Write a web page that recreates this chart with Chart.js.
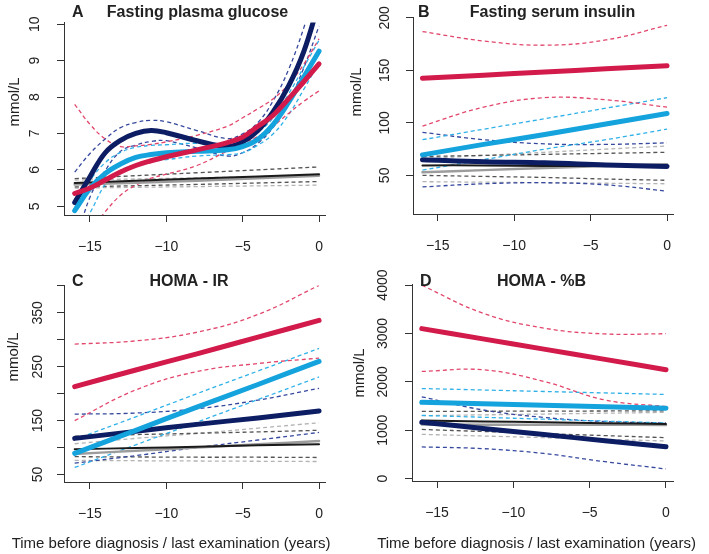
<!DOCTYPE html>
<html>
<head>
<meta charset="utf-8">
<script src="https://cdn.jsdelivr.net/npm/chart.js@4.4.1/dist/chart.umd.min.js"></script>
<style>
  body { margin: 0; background: #fff; }
  #page { position: relative; width: 709px; height: 554px; overflow: hidden; background: #fff; }
  canvas { position: absolute; }
</style>
</head>
<body>
<div id="page">
  <canvas id="panelA" width="348" height="270" style="left:0;top:0"></canvas>
  <canvas id="panelB" width="361" height="270" style="left:348px;top:0"></canvas>
  <canvas id="panelC" width="348" height="284" style="left:0;top:270px"></canvas>
  <canvas id="panelD" width="361" height="284" style="left:348px;top:270px"></canvas>
</div>
<script>
var FONT = '"Liberation Sans", Arial, Helvetica, sans-serif'

// years before diagnosis
var xTicks = [-15, -10, -5, 0]
var yearsA = [-16, -15, -14, -13, -12, -11, -10, -8, -6, -5, -4, -3, -2, -1, 0]
var yearsRefA = [-16, -8, 0]
var years = [-16, -12, -8, -4, 0]

// A - fasting plasma glucose (mmol/L)
var glucoseRed = [5.35, 5.5, 5.72, 5.94, 6.12, 6.25, 6.36, 6.55, 6.75, 6.9, 7.2, 7.5, 7.95, 8.42, 8.91]
var glucoseRedHi = [7.8, 7.25, 6.85, 6.64, 6.66, 6.7, 6.77, 6.95, 7.2, 7.43, 7.68, 7.95, 8.35, 8.9, 9.6]
var glucoseRedLo = [3.8, 4.3, 4.85, 5.3, 5.58, 5.77, 5.88, 6.12, 6.52, 6.72, 6.92, 7.2, 7.55, 7.88, 8.17]
var glucoseBlue = [4.88, 5.49, 5.9, 6.16, 6.34, 6.42, 6.47, 6.51, 6.55, 6.64, 6.84, 7.25, 7.85, 8.55, 9.26]
var glucoseBlueHi = [4.95, 5.7, 6.2, 6.48, 6.62, 6.67, 6.69, 6.73, 6.68, 6.77, 7.03, 7.43, 8.08, 8.82, 9.56]
var glucoseBlueLo = [4.2, 4.82, 5.6, 5.98, 6.15, 6.23, 6.28, 6.38, 6.42, 6.47, 6.68, 6.99, 7.51, 8.21, 8.95]
var glucoseNavy = [5.1, 5.81, 6.47, 6.81, 7.0, 7.08, 7.02, 6.8, 6.64, 6.77, 7.08, 7.6, 8.3, 9.25, 10.6]
var glucoseNavyHi = [5.94, 6.45, 6.85, 7.16, 7.3, 7.36, 7.32, 7.08, 6.86, 6.99, 7.3, 7.9, 8.75, 9.9, 11.3]
var glucoseNavyLo = [3.9, 5.25, 5.98, 6.51, 6.68, 6.78, 6.8, 6.6, 6.38, 6.47, 6.73, 7.17, 7.86, 8.8, 9.95]
var glucoseBlack = [5.64, 5.76, 5.88]
var glucoseBlackHi = [5.76, 5.92, 6.08]
var glucoseBlackLo = [5.53, 5.6, 5.68]
var glucoseGray = [5.6, 5.7, 5.84]
var glucoseGrayHi = [5.72, 5.78, 5.85]
var glucoseGrayLo = [5.5, 5.54, 5.58]

// B - fasting serum insulin
var insulinRed = [142.5, 145.5, 148.5, 151.5, 154.5]
var insulinRedHi = [187, 178, 174, 179, 193]
var insulinRedLo = [97, 115, 124, 122, 115]
var insulinBlue = [69.5, 79.5, 89, 99, 109]
var insulinBlueHi = [84, 94, 104, 114, 124]
var insulinBlueLo = [55, 65, 75, 84, 94]
var insulinNavy = [65, 63, 62, 60, 58.5]
var insulinNavyHi = [91, 84, 80, 79.5, 81]
var insulinNavyLo = [39, 42, 43, 41, 35]
var insulinBlack = [59.5, 59.5, 59, 59, 59]
var insulinBlackHi = [68, 69, 70, 71, 72]
var insulinBlackLo = [50, 49, 48, 46.5, 45.3]
var insulinGray = [53, 55, 57, 59, 60.5]
var insulinGrayHi = [66, 69, 72, 75, 78]
var insulinGrayLo = [44, 43.5, 43, 42.5, 42]

// C - HOMA-IR
var homaIrRed = [213, 244, 274, 305, 336]
var homaIrRedHi = [292, 298, 314, 347, 401]
var homaIrRedLo = [150, 207, 241, 256, 266]
var homaIrBlue = [89, 132, 175, 217, 260]
var homaIrBlueHi = [115, 157, 200, 242, 284]
var homaIrBlueLo = [63, 105, 147, 189, 231]
var homaIrNavy = [117, 130, 143, 155, 168]
var homaIrNavyHi = [162, 164, 172, 188, 210]
var homaIrNavyLo = [71, 85, 100, 114, 128]
var homaIrBlack = [97, 99, 101.5, 104, 106]
var homaIrBlackHi = [121, 124, 126.5, 129, 132]
var homaIrBlackLo = [83, 82.5, 82, 82, 81.5]
var homaIrGray = [88, 94, 100, 106, 112]
var homaIrGrayHi = [107, 117, 126, 136, 146]
var homaIrGrayLo = [76, 75.5, 75, 74.5, 74]

// D - HOMA-%B
var homaBRed = [3100, 2888, 2676, 2464, 2250]
var homaBRedHi = [3996, 3420, 3110, 2990, 2995]
var homaBRedLo = [2215, 2250, 2010, 1625, 1490]
var homaBBlue = [1577, 1547, 1516, 1486, 1455]
var homaBBlueHi = [1862, 1832, 1801, 1771, 1740]
var homaBBlueLo = [1307, 1268, 1228, 1189, 1150]
var homaBNavy = [1165, 1038, 911, 784, 657]
var homaBNavyHi = [1690, 1420, 1265, 1180, 1150]
var homaBNavyLo = [655, 620, 520, 350, 200]
var homaBBlack = [1199, 1182, 1165, 1147, 1130]
var homaBBlackHi = [1388, 1392, 1395, 1398, 1402]
var homaBBlackLo = [1016, 974, 931, 889, 846]
var homaBGray = [1118, 1116, 1114, 1112, 1110]
var homaBGrayHi = [1300, 1318, 1335, 1352, 1370]
var homaBGrayLo = [915, 881, 847, 812, 778]

var colors = {
    red: ['#d21a4b', '#e2466c'],
    blue: ['#14a3dd', '#2fb1e8'],
    navy: ['#0c1d63', '#36489e'],
    black: ['#1a1a1a', '#555555'],
    gray: ['#9c9c9c', '#b3b3b3']
}

function solid(xs, ys, color, width) {
    return {
        data: xs.map(function (x, i) { return { x: x, y: ys[i] } }),
        borderColor: color,
        borderWidth: width,
        pointRadius: 0,
        fill: false,
        tension: 0.4,
        borderCapStyle: 'round',
        clip: 0
    }
}

function dashed(xs, ys, color) {
    var d = solid(xs, ys, color, 1.3)
    d.borderDash = [4, 3]
    d.borderCapStyle = 'butt'
    return d
}

// first dataset ends up on top
function groupSets(xs, refXs, s) {
    return [
        solid(xs, s.red[0], colors.red[0], 5),
        solid(xs, s.blue[0], colors.blue[0], 5),
        solid(xs, s.navy[0], colors.navy[0], 5),
        solid(refXs, s.black[0], colors.black[0], 2),
        solid(refXs, s.gray[0], colors.gray[0], 2.5),
        dashed(xs, s.red[1], colors.red[1]),
        dashed(xs, s.red[2], colors.red[1]),
        dashed(xs, s.blue[1], colors.blue[1]),
        dashed(xs, s.blue[2], colors.blue[1]),
        dashed(xs, s.navy[1], colors.navy[1]),
        dashed(xs, s.navy[2], colors.navy[1]),
        dashed(refXs, s.black[1], colors.black[1]),
        dashed(refXs, s.black[2], colors.black[1]),
        dashed(refXs, s.gray[1], colors.gray[1]),
        dashed(refXs, s.gray[2], colors.gray[1])
    ]
}

function textPlugin(items) {
    return {
        id: 'panelText',
        afterDatasetsDraw: function (chart) {
            var c = chart.ctx
            items.forEach(function (t) {
                c.save()
                c.font = (t.bold ? 'bold ' : '') + t.size + 'px ' + FONT
                c.fillStyle = '#222'
                c.textAlign = t.align || 'center'
                c.textBaseline = 'middle'
                c.translate(t.x, t.y)
                if (t.rotate) c.rotate(-Math.PI / 2)
                c.fillText(t.text, 0, 0)
                c.restore()
            })
        }
    }
}

function minusLabel(v) {
    return v < 0 ? '\u2212' + Math.abs(v) : String(v)
}

function drawPanel(canvasId, p) {
    var canvas = document.getElementById(canvasId).getContext('2d')
    var tickFont = { family: FONT, size: 14 }
    // eslint-disable-next-line no-unused-vars
    var chart = new Chart(canvas, {
        type: 'line',
        data: { datasets: p.datasets },
        options: {
            responsive: false,
            animation: false,
            events: [],
            layout: { padding: p.padding },
            plugins: { legend: { display: false }, tooltip: { enabled: false } },
            scales: {
                x: {
                    type: 'linear',
                    min: p.xMin,
                    max: p.xMax,
                    afterBuildTicks: function (s) { s.ticks = xTicks.map(function (v) { return { value: v } }) },
                    afterFit: function (s) { s.height = p.xHeight },
                    grid: { drawOnChartArea: false, tickLength: 7, color: '#333' },
                    border: { color: '#333' },
                    ticks: { padding: 17, maxRotation: 0, font: tickFont, color: '#222', callback: minusLabel }
                },
                y: {
                    type: 'linear',
                    min: p.yMin,
                    max: p.yMax,
                    afterBuildTicks: function (s) { s.ticks = p.yTicks.map(function (v) { return { value: v } }) },
                    afterFit: function (s) { s.width = p.yWidth },
                    grid: { drawOnChartArea: false, tickLength: 7, color: '#333' },
                    border: { color: '#333' },
                    ticks: {
                        minRotation: 90, maxRotation: 90, crossAlign: 'center', padding: p.yPad,
                        font: tickFont, color: '#222',
                        callback: p.yLabel || function (v) { return String(v) }
                    }
                }
            }
        },
        plugins: [textPlugin(p.texts)]
    })
}

var xLabel = 'Time before diagnosis / last examination (years)'

drawPanel('panelA', {
    datasets: groupSets(yearsA, yearsRefA, {
        red: [glucoseRed, glucoseRedHi, glucoseRedLo],
        blue: [glucoseBlue, glucoseBlueHi, glucoseBlueLo],
        navy: [glucoseNavy, glucoseNavyHi, glucoseNavyLo],
        black: [glucoseBlack, glucoseBlackHi, glucoseBlackLo],
        gray: [glucoseGray, glucoseGrayHi, glucoseGrayLo]
    }),
    padding: { left: 0, right: 23, top: 13, bottom: 15 },
    xHeight: 40, yWidth: 64, yPad: 14,
    xMin: -16.70, xMax: 0.39, yMin: 4.76, yMax: 10.05,
    yTicks: [5, 6, 7, 8, 9, 10],
    texts: [
        { text: 'A', x: 72, y: 13, size: 16, bold: true, align: 'left' },
        { text: 'Fasting plasma glucose', x: 197.5, y: 13, size: 16, bold: true },
        { text: 'mmol/L', x: 15, y: 102, size: 15, rotate: true }
    ]
})

drawPanel('panelB', {
    datasets: groupSets(years, years, {
        red: [insulinRed, insulinRedHi, insulinRedLo],
        blue: [insulinBlue, insulinBlueHi, insulinBlueLo],
        navy: [insulinNavy, insulinNavyHi, insulinNavyLo],
        black: [insulinBlack, insulinBlackHi, insulinBlackLo],
        gray: [insulinGray, insulinGrayHi, insulinGrayLo]
    }),
    padding: { left: 0, right: 36, top: 15, bottom: 16 },
    xHeight: 40, yWidth: 65, yPad: 9,
    xMin: -16.62, xMax: 0.39, yMin: 13.2, yMax: 200.5,
    yTicks: [50, 100, 150, 200],
    texts: [
        { text: 'B', x: 70, y: 13, size: 16, bold: true, align: 'left' },
        { text: 'Fasting serum insulin', x: 204.5, y: 13, size: 16, bold: true },
        { text: 'mmol/L', x: 9, y: 92, size: 15, rotate: true }
    ]
})

drawPanel('panelC', {
    datasets: groupSets(years, years, {
        red: [homaIrRed, homaIrRedHi, homaIrRedLo],
        blue: [homaIrBlue, homaIrBlueHi, homaIrBlueLo],
        navy: [homaIrNavy, homaIrNavyHi, homaIrNavyLo],
        black: [homaIrBlack, homaIrBlackHi, homaIrBlackLo],
        gray: [homaIrGray, homaIrGrayHi, homaIrGrayLo]
    }),
    padding: { left: 0, right: 23, top: 12, bottom: 2 },
    xHeight: 70, yWidth: 64, yPad: 7,
    xMin: -16.70, xMax: 0.39, yMin: 36, yMax: 401,
    yTicks: [50, 100, 150, 200, 250, 300, 350, 400],
    yLabel: function (v) { return v % 100 === 50 ? String(v) : '' },
    texts: [
        { text: 'C', x: 72, y: 12, size: 16, bold: true, align: 'left' },
        { text: 'HOMA - IR', x: 189, y: 12, size: 16, bold: true },
        { text: 'mmol/L', x: 14, y: 87, size: 15, rotate: true },
        { text: xLabel, x: 171, y: 274, size: 15 }
    ]
})

drawPanel('panelD', {
    datasets: groupSets(years, years, {
        red: [homaBRed, homaBRedHi, homaBRedLo],
        blue: [homaBBlue, homaBBlueHi, homaBBlueLo],
        navy: [homaBNavy, homaBNavyHi, homaBNavyLo],
        black: [homaBBlack, homaBBlackHi, homaBBlackLo],
        gray: [homaBGray, homaBGrayHi, homaBGrayLo]
    }),
    padding: { left: 0, right: 36, top: 11, bottom: 2 },
    xHeight: 71, yWidth: 64, yPad: 6,
    xMin: -16.64, xMax: 0.46, yMin: -49, yMax: 4014,
    yTicks: [0, 1000, 2000, 3000, 4000],
    texts: [
        { text: 'D', x: 72, y: 12, size: 16, bold: true, align: 'left' },
        { text: 'HOMA - %B', x: 193.5, y: 12, size: 16, bold: true },
        { text: 'mmol/L', x: 12, y: 103, size: 15, rotate: true },
        { text: xLabel, x: 188.5, y: 274, size: 15 }
    ]
})
</script>
</body>
</html>
